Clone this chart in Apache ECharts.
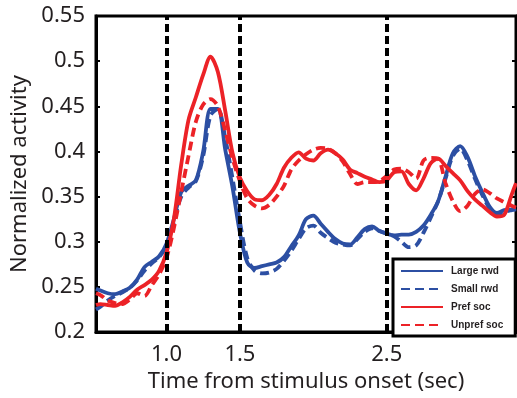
<!DOCTYPE html>
<html>
<head>
<meta charset="utf-8">
<script src="https://cdn.jsdelivr.net/npm/echarts@6/dist/echarts.min.js"></script>
<style>
  html, body { margin: 0; padding: 0; background: #fff; }
  #chart { width: 517px; height: 398px; }
</style>
</head>
<body>
<div id="chart"></div>
<script>
// time from stimulus onset (sec)
const time = [0.52,
  0.55, 0.6, 0.65, 0.7, 0.75, 0.8, 0.85, 0.9, 0.95,
  1.0, 1.05, 1.1, 1.15, 1.2, 1.25, 1.3, 1.35, 1.4, 1.45,
  1.5, 1.55, 1.6, 1.65, 1.7, 1.75, 1.8, 1.85, 1.9, 1.95,
  2.0, 2.05, 2.1, 2.15, 2.2, 2.25, 2.3, 2.35, 2.4, 2.45,
  2.5, 2.55, 2.6, 2.65, 2.7, 2.75, 2.8, 2.85, 2.9, 2.95,
  3.0, 3.05, 3.1, 3.15, 3.2, 3.25, 3.3, 3.35,
  3.38];

const largeRwd = [0.248,
  0.246, 0.243, 0.242, 0.245, 0.249, 0.258, 0.272, 0.278, 0.284,
  0.298, 0.325, 0.355, 0.362, 0.368, 0.400, 0.447, 0.447, 0.402, 0.360,
  0.310, 0.277, 0.271, 0.273, 0.275, 0.277, 0.283, 0.295, 0.307, 0.325,
  0.329, 0.320, 0.311, 0.303, 0.298, 0.297, 0.305, 0.314, 0.317, 0.312,
  0.309, 0.307, 0.308, 0.308, 0.311, 0.318, 0.330, 0.345, 0.372, 0.398,
  0.406, 0.394, 0.373, 0.355, 0.339, 0.332, 0.335, 0.336,
  0.337];

const smallRwd = [0.225,
  0.228, 0.235, 0.240, 0.244, 0.249, 0.257, 0.268, 0.276, 0.283,
  0.295, 0.322, 0.350, 0.360, 0.367, 0.395, 0.440, 0.447, 0.415, 0.370,
  0.322, 0.282, 0.268, 0.265, 0.266, 0.270, 0.279, 0.290, 0.303, 0.315,
  0.318, 0.310, 0.304, 0.299, 0.297, 0.296, 0.303, 0.311, 0.315, 0.312,
  0.309, 0.306, 0.300, 0.294, 0.296, 0.310, 0.327, 0.345, 0.370, 0.395,
  0.403, 0.390, 0.370, 0.352, 0.337, 0.330, 0.333, 0.335,
  0.336];

const prefSoc = [0.230,
  0.231, 0.230, 0.229, 0.233, 0.239, 0.247, 0.252, 0.258, 0.268,
  0.288, 0.325, 0.385, 0.435, 0.460, 0.485, 0.505, 0.488, 0.445, 0.398,
  0.371, 0.356, 0.347, 0.346, 0.352, 0.364, 0.382, 0.393, 0.399, 0.392,
  0.390, 0.398, 0.402, 0.398, 0.391, 0.380, 0.376, 0.372, 0.369, 0.366,
  0.368, 0.377, 0.378, 0.364, 0.357, 0.370, 0.387, 0.392, 0.384, 0.376,
  0.368, 0.356, 0.347, 0.340, 0.333, 0.328, 0.330, 0.352,
  0.365];

const unprefSoc = [0.243,
  0.241, 0.235, 0.232, 0.231, 0.236, 0.243, 0.240, 0.252, 0.264,
  0.282, 0.315, 0.355, 0.395, 0.433, 0.452, 0.458, 0.450, 0.423, 0.392,
  0.367, 0.348, 0.340, 0.337, 0.341, 0.350, 0.362, 0.380, 0.390, 0.397,
  0.402, 0.404, 0.403, 0.398, 0.389, 0.375, 0.364, 0.366, 0.366, 0.367,
  0.373, 0.380, 0.381, 0.377, 0.370, 0.390, 0.393, 0.392, 0.365, 0.345,
  0.334, 0.340, 0.353, 0.358, 0.354, 0.348, 0.344, 0.340,
  0.338];

const eventTimes = [1.0, 1.5, 2.5];
const xTickValues = [1.0, 1.5, 2.5];
const seriesNames = ["Large rwd", "Small rwd", "Pref soc", "Unpref soc"];

const BLUE = "#2c4fa3";
const RED = "#ec2227";
const INK = "#231f20";

function pairs(values) {
  return time.map((t, i) => [t, values[i]]);
}

function curve(name, values, color, dashed) {
  return {
    name: name,
    type: "line",
    data: pairs(values),
    smooth: 0.3,
    symbol: "none",
    z: 3,
    color: color,
    lineStyle: { color: color, width: 3.8, type: dashed ? [9, 5] : "solid" },
  };
}

const chart = echarts.init(document.getElementById("chart"));
chart.setOption({
  animation: false,
  backgroundColor: "#fff",
  textStyle: { fontFamily: "Noto Sans" },
  grid: {
    left: 96, right: 1, top: 16, bottom: 54,
    show: true, borderColor: "#000", borderWidth: 3,
  },
  legend: {
    data: seriesNames,
    orient: "vertical",
    left: 393, top: 259,
    itemWidth: 42, itemHeight: 10, itemGap: 8,
    padding: [7, 12, 6, 7],
    borderColor: "#000", borderWidth: 3, borderRadius: 0,
    backgroundColor: "#fff",
    itemStyle: { color: "rgba(0,0,0,0)", borderWidth: 0 },
    textStyle: {
      fontSize: 10, fontFamily: "Liberation Sans", fontWeight: "bold",
      color: INK, padding: [0, 0, 0, 3],
    },
  },
  xAxis: {
    type: "value",
    min: 0.52, max: 3.38,
    axisLine: { onZero: false, lineStyle: { color: "#000", width: 3 } },
    axisTick: { show: false },
    splitLine: { show: false },
    axisLabel: {
      customValues: xTickValues,
      formatter: (v) => v.toFixed(1),
      fontSize: 22, color: INK, margin: 12,
    },
    name: "Time from stimulus onset (sec)",
    nameLocation: "middle",
    nameGap: 33,
    nameTextStyle: { fontSize: 22, color: INK },
  },
  yAxis: [
    {
      type: "value",
      position: "left",
      min: 0.2, max: 0.55, interval: 0.05,
      axisLine: { show: true, lineStyle: { color: "#000", width: 3 } },
      axisTick: { show: true, inside: true, length: 4, lineStyle: { color: "#000", width: 2 } },
      splitLine: { show: false },
      axisLabel: {
        formatter: (v) => String(+v.toFixed(2)),
        fontSize: 22, color: INK, margin: 11,
        padding: [8, 0, 0, 0],
      },
      name: "Normalized activity",
      nameLocation: "middle",
      nameGap: 60,
      nameTextStyle: { fontSize: 22, color: INK },
    },
    {
      type: "value",
      position: "right",
      min: 0.2, max: 0.55, interval: 0.05,
      axisLine: { show: true, lineStyle: { color: "#000", width: 3 } },
      axisTick: { show: true, inside: true, length: 4, lineStyle: { color: "#000", width: 2 } },
      axisLabel: { show: false },
      splitLine: { show: false },
    },
  ],
  series: [
    {
      name: "events",
      type: "line",
      data: [],
      z: 1,
      silent: true,
      markLine: {
        silent: true,
        symbol: ["none", "none"],
        label: { show: false },
        lineStyle: { color: "#000", width: 4, type: [8, 4] },
        data: eventTimes.map((t) => ({ xAxis: t })),
      },
    },
    curve(seriesNames[0], largeRwd, BLUE, false),
    curve(seriesNames[1], smallRwd, BLUE, true),
    curve(seriesNames[2], prefSoc, RED, false),
    curve(seriesNames[3], unprefSoc, RED, true),
  ],
});
</script>
</body>
</html>
